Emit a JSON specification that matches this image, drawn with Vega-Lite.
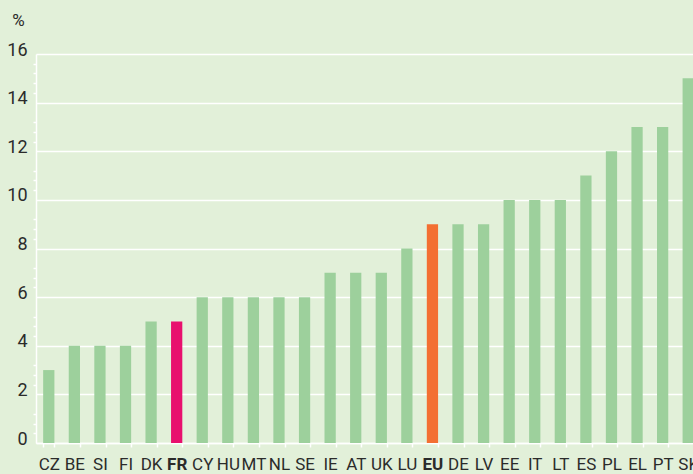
{
  "$schema": "https://vega.github.io/schema/vega-lite/v6.json",
  "width": 657,
  "height": 389,
  "autosize": {"type": "none"},
  "padding": {"left": 36, "top": 54, "right": 0, "bottom": 31},
  "background": "#e2f0d9",
  "config": {
    "view": {"stroke": null},
    "font": "Roboto"
  },
  "data": {
    "values": [
      {"country": "CZ", "value": 3},
      {"country": "BE", "value": 4},
      {"country": "SI", "value": 4},
      {"country": "FI", "value": 4},
      {"country": "DK", "value": 5},
      {"country": "FR", "value": 5},
      {"country": "CY", "value": 6},
      {"country": "HU", "value": 6},
      {"country": "MT", "value": 6},
      {"country": "NL", "value": 6},
      {"country": "SE", "value": 6},
      {"country": "IE", "value": 7},
      {"country": "AT", "value": 7},
      {"country": "UK", "value": 7},
      {"country": "LU", "value": 8},
      {"country": "EU", "value": 9},
      {"country": "DE", "value": 9},
      {"country": "LV", "value": 9},
      {"country": "EE", "value": 10},
      {"country": "IT", "value": 10},
      {"country": "LT", "value": 10},
      {"country": "ES", "value": 11},
      {"country": "PL", "value": 12},
      {"country": "EL", "value": 13},
      {"country": "PT", "value": 13},
      {"country": "SK", "value": 15}
    ]
  },
  "mark": {"type": "bar"},
  "encoding": {
    "x": {
      "field": "country",
      "type": "nominal",
      "sort": null,
      "scale": {"range": [0, 665], "paddingInner": 0.56, "paddingOuter": 0.28},
      "axis": {
        "title": null,
        "labelAngle": 0,
        "labelOverlap": false,
        "tickBand": "extent",
        "domainColor": "white",
        "domainWidth": 1.5,
        "tickColor": "white",
        "tickWidth": 1.5,
        "tickSize": 4,
        "labelPadding": 9,
        "labelFontSize": 17,
        "labelColor": "#2b2b2b",
        "labelFontWeight": {"condition": {"test": "datum.value === 'FR' || datum.value === 'EU'", "value": "bold"}, "value": "normal"},
        "grid": false
      }
    },
    "y": {
      "field": "value",
      "type": "quantitative",
      "scale": {"domain": [0, 16], "nice": false},
      "axis": {
        "title": "%",
        "titleAngle": 0,
        "titleX": -18,
        "titleY": -34,
        "titleAlign": "center",
        "titleBaseline": "middle",
        "titleFontSize": 17,
        "titleFontWeight": "normal",
        "titleColor": "#2b2b2b",
        "values": [0, 0.4, 0.8, 1.2, 2, 2.4, 2.8, 3.2, 4, 4.4, 4.8, 5.2, 6, 6.4, 6.8, 7.2, 8, 8.4, 8.8, 9.2, 10, 10.4, 10.8, 11.2, 12, 12.4, 12.8, 13.2, 14, 14.4, 14.8, 15.2, 15.6, 16],
        "labelExpr": "(datum.value % 2 === 0) ? format(datum.value, 'd') : ''",
        "labelOverlap": false,
        "labelFontSize": 18,
        "labelColor": "#2b2b2b",
        "labelPadding": 6,
        "labelOffset": -4,
        "tickSize": 3,
        "tickColor": "white",
        "tickWidth": 1.5,
        "tickOpacity": {"condition": {"test": "datum.value % 2 === 0", "value": 0}, "value": 1},
        "grid": true,
        "gridColor": "white",
        "gridWidth": 1.5,
        "gridOpacity": {"condition": {"test": "datum.value % 2 === 0", "value": 1}, "value": 0},
        "domainColor": "white",
        "domainWidth": 1.5
      }
    },
    "color": {
      "condition": [
        {"test": "datum.country === 'FR'", "value": "#e8106e"},
        {"test": "datum.country === 'EU'", "value": "#f36f32"}
      ],
      "value": "#9dd09c"
    }
  }
}
